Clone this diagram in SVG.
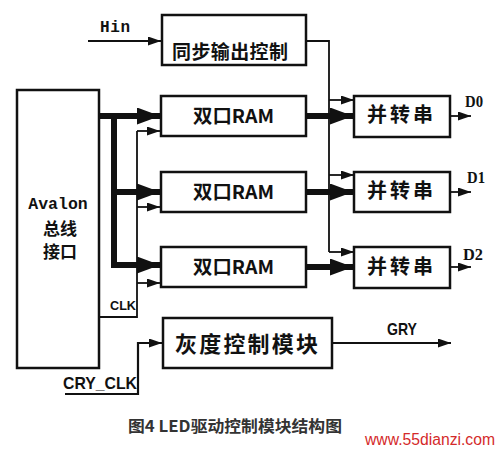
<svg xmlns="http://www.w3.org/2000/svg" width="500" height="450" viewBox="0 0 500 450">
<style>
.box{fill:#fff;stroke:#111;stroke-width:2.5}
.thin{fill:none;stroke:#111;stroke-width:1.8}
.bus{fill:none;stroke:#111;stroke-width:6}
.cjk{font-family:"Noto Sans CJK SC","Noto Sans",sans-serif;font-weight:bold;fill:#111}
.mono{font-family:"Liberation Mono","DejaVu Sans Mono",monospace;font-weight:bold;fill:#111}
.serif{font-family:"Liberation Serif","DejaVu Serif",serif;font-weight:bold;fill:#111}
.sans{font-family:"Liberation Sans","DejaVu Sans",sans-serif;font-weight:bold;fill:#111}
</style>
<defs>
<marker id="arrS" markerUnits="userSpaceOnUse" markerWidth="13" markerHeight="9" refX="13" refY="4.5" orient="auto"><path d="M0,0 L13,4.5 L0,9 z" fill="#111"/></marker>
<marker id="arrB" markerUnits="userSpaceOnUse" markerWidth="23" markerHeight="17" refX="23" refY="8.5" orient="auto"><path d="M0,0 L23,8.5 L0,17 z" fill="#111"/></marker>
</defs>
<rect width="500" height="450" fill="#fff"/>

<g id="connectors">
  <line class="thin" x1="88" y1="41" x2="161" y2="41" marker-end="url(#arrS)"/>
  <polyline class="bus" points="99,116 114,116 114,265"/>
  <line class="bus" x1="110" y1="116" x2="160" y2="116" marker-end="url(#arrB)"/>
  <line class="bus" x1="111" y1="192" x2="160" y2="192" marker-end="url(#arrB)"/>
  <line class="bus" x1="111" y1="265" x2="160" y2="265" marker-end="url(#arrB)"/>
  <polyline class="thin" points="99,317 137,317 137,131"/>
  <line class="thin" x1="137" y1="131" x2="160" y2="131" marker-end="url(#arrS)"/>
  <line class="thin" x1="137" y1="207" x2="160" y2="207" marker-end="url(#arrS)"/>
  <line class="thin" x1="137" y1="283" x2="160" y2="283" marker-end="url(#arrS)"/>
  <polyline class="thin" points="306,41 329,41 329,252"/>
  <line class="thin" x1="329" y1="100" x2="354" y2="100" marker-end="url(#arrS)"/>
  <line class="thin" x1="329" y1="175" x2="354" y2="175" marker-end="url(#arrS)"/>
  <line class="thin" x1="329" y1="252" x2="354" y2="252" marker-end="url(#arrS)"/>
  <line class="bus" x1="307" y1="116" x2="353" y2="116" marker-end="url(#arrB)"/>
  <line class="bus" x1="307" y1="192" x2="353" y2="192" marker-end="url(#arrB)"/>
  <line class="bus" x1="307" y1="267" x2="353" y2="267" marker-end="url(#arrB)"/>
  <line class="thin" x1="450" y1="116" x2="471" y2="116" marker-end="url(#arrS)"/>
  <line class="thin" x1="450" y1="192" x2="471" y2="192" marker-end="url(#arrS)"/>
  <line class="thin" x1="450" y1="267" x2="471" y2="267" marker-end="url(#arrS)"/>
  <line class="thin" x1="332" y1="343" x2="451" y2="343" marker-end="url(#arrS)"/>
  <polyline class="thin" points="65,394 138,394 138,343 162,343" style="stroke-width:2.2"/>
  <line class="thin" x1="138" y1="343" x2="162" y2="343" marker-end="url(#arrS)"/>
  <text class="mono" x="100" y="32" font-size="16" textLength="30">Hin</text>
  <text class="sans" x="110" y="310" font-size="12" textLength="26" lengthAdjust="spacingAndGlyphs">CLK</text>
  <text class="sans" x="63" y="389" font-size="17" textLength="74" lengthAdjust="spacingAndGlyphs">CRY_CLK</text>
  <text class="sans" x="387" y="335" font-size="17" textLength="30" lengthAdjust="spacingAndGlyphs">GRY</text>
  <text class="serif" x="465" y="107" font-size="16" textLength="18" lengthAdjust="spacingAndGlyphs">D0</text>
  <text class="serif" x="467" y="183" font-size="16" textLength="18" lengthAdjust="spacingAndGlyphs">D1</text>
  <text class="serif" x="463" y="260" font-size="16" textLength="20" lengthAdjust="spacingAndGlyphs">D2</text>
</g>

<g id="sync">
  <rect class="box" x="162" y="15" width="144" height="50"/>
  <text class="cjk" x="172" y="59" font-size="19" textLength="116">同步输出控制</text>
</g>
<g id="avalon">
  <rect class="box" x="17" y="90" width="82" height="278"/>
  <text class="mono" x="58" y="209" font-size="16.5" text-anchor="middle">Avalon</text>
  <text class="cjk" x="60" y="235" font-size="17" text-anchor="middle">总线</text>
  <text class="cjk" x="60" y="258" font-size="17" text-anchor="middle">接口</text>
</g>
<g id="ram1">
  <rect class="box" x="161" y="96" width="145" height="40"/>
  <text class="cjk" x="193" y="123" font-size="19" textLength="81" lengthAdjust="spacingAndGlyphs">双口RAM</text>
</g>
<g id="ram2">
  <rect class="box" x="161" y="172" width="145" height="40"/>
  <text class="cjk" x="193" y="199" font-size="19" textLength="81" lengthAdjust="spacingAndGlyphs">双口RAM</text>
</g>
<g id="ram3">
  <rect class="box" x="161" y="247" width="145" height="40"/>
  <text class="cjk" x="193" y="274" font-size="19" textLength="81" lengthAdjust="spacingAndGlyphs">双口RAM</text>
</g>
<g id="ps1">
  <rect class="box" x="354" y="96" width="96" height="41"/>
  <text class="cjk" x="367" y="122" font-size="20" textLength="66">并转串</text>
</g>
<g id="ps2">
  <rect class="box" x="354" y="172" width="96" height="40"/>
  <text class="cjk" x="367" y="198" font-size="20" textLength="66">并转串</text>
</g>
<g id="ps3">
  <rect class="box" x="354" y="247" width="96" height="41"/>
  <text class="cjk" x="367" y="274" font-size="20" textLength="66">并转串</text>
</g>
<g id="gray">
  <rect class="box" x="163" y="318" width="169" height="50"/>
  <text class="cjk" x="175" y="352" font-size="22" textLength="143">灰度控制模块</text>
</g>

<text x="128" y="432" font-family="'Noto Sans CJK SC','Liberation Serif',serif" font-weight="bold" font-size="16" fill="#333" textLength="214" lengthAdjust="spacingAndGlyphs">图4 LED驱动控制模块结构图</text>
<text x="365" y="445" font-family="'Liberation Sans',Arial,sans-serif" font-size="16" fill="#d42a2a" textLength="130" lengthAdjust="spacingAndGlyphs">www.55dianzi.com</text>
</svg>
